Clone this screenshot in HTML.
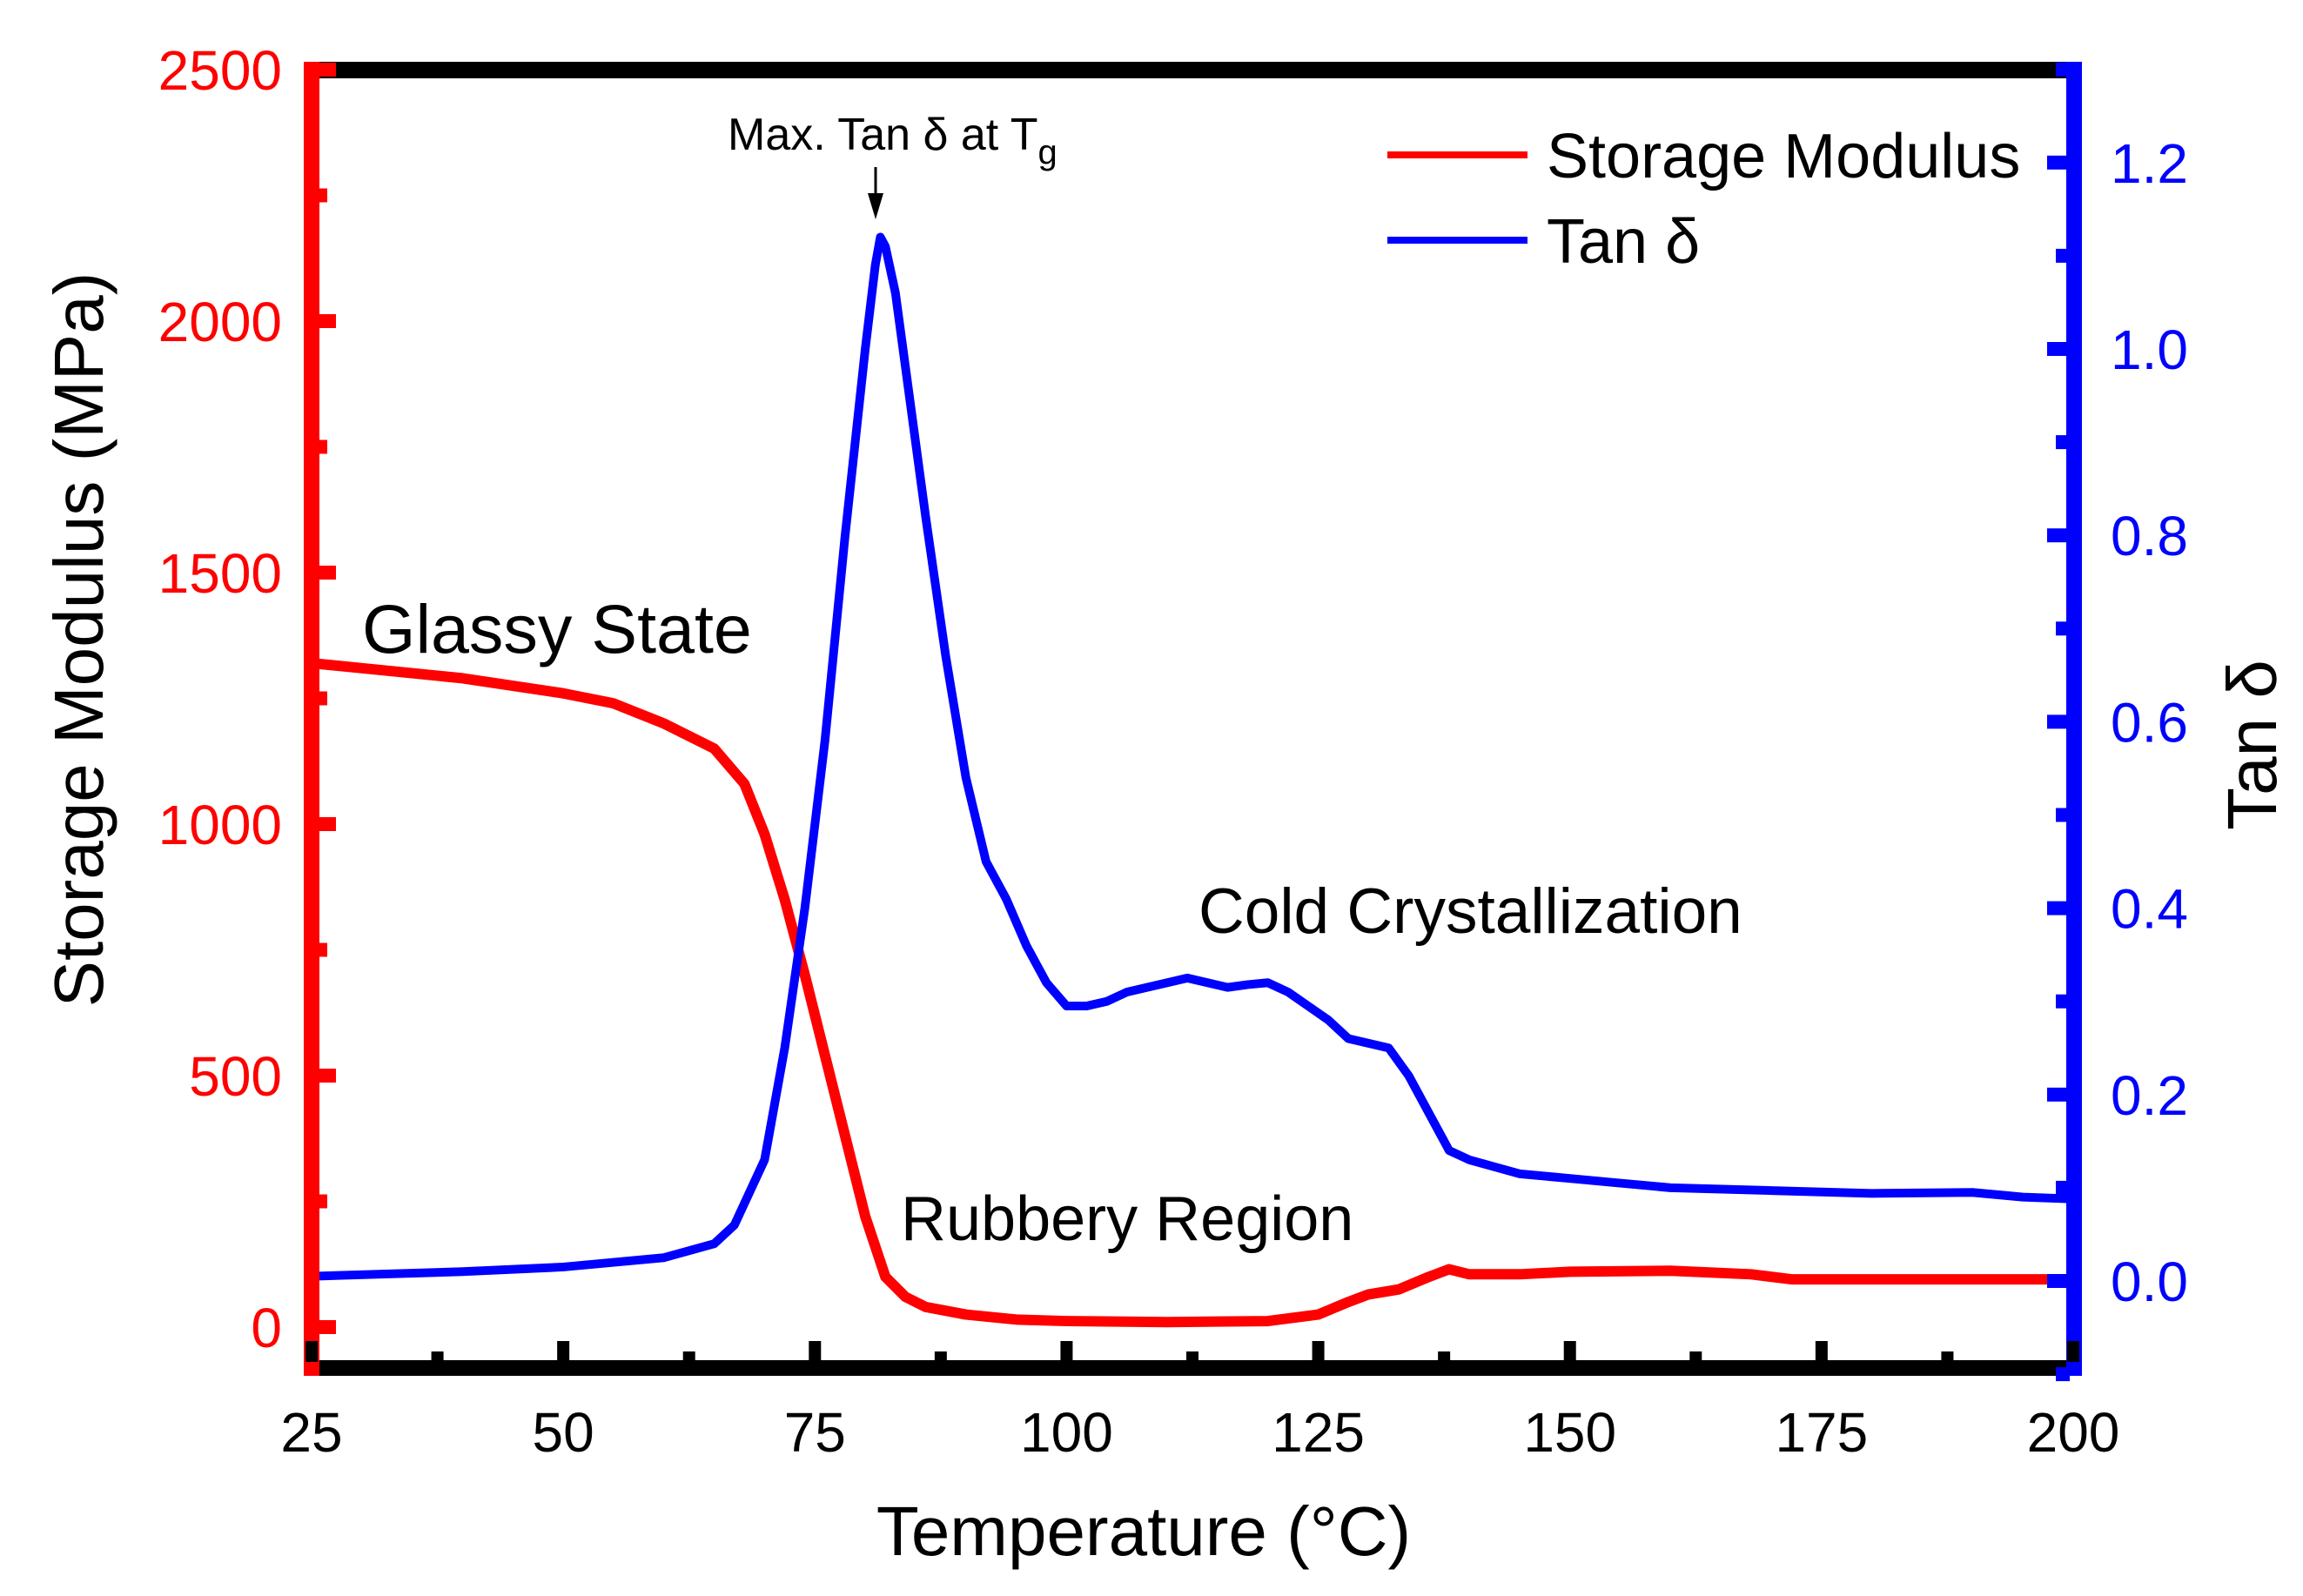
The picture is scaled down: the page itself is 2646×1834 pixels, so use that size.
<!DOCTYPE html>
<html><head><meta charset="utf-8">
<style>
html,body{margin:0;padding:0;background:#fff;}
svg{display:block;font-family:"Liberation Sans",Arial,sans-serif;}
</style></head>
<body>
<svg id="chart" width="2646" height="1834" viewBox="0 0 2646 1834" xmlns="http://www.w3.org/2000/svg">
<g id="plot"></g>
</svg>
<script>
const temps = [25,30,40,50,55,60,65,68,70,72,74,76,78,80,82,84,86,90,95,100,110,120,125,128,130,133,136,138,140,145,150,160,168,172,180,190,200];
const storageModulus = [1320,1310,1290,1260,1240,1200,1150,1080,980,850,700,540,380,220,100,60,40,25,15,12,10,12,25,50,65,75,100,115,105,105,110,112,105,95,95,95,95];
const tanTemps = [25,40,50,60,65,67,70,72,74,76,78,80,81,81.5,82,83,84,86,88,90,92,94,96,98,100,102,104,106,108,110,112,114,116,118,120,122,124,126,128,130,132,134,136,138,140,145,150,155,160,170,180,190,195,200];
const tanDelta = [0.005,0.01,0.015,0.025,0.04,0.06,0.13,0.25,0.40,0.58,0.80,1.0,1.09,1.12,1.11,1.06,0.98,0.82,0.67,0.54,0.45,0.41,0.36,0.32,0.295,0.295,0.30,0.31,0.315,0.32,0.325,0.32,0.315,0.318,0.32,0.31,0.295,0.28,0.26,0.255,0.25,0.22,0.18,0.14,0.13,0.115,0.11,0.105,0.10,0.097,0.094,0.095,0.09,0.088];
const xTicks = [25,50,75,100,125,150,175,200];
const leftTicks = [0,500,1000,1500,2000,2500];
const rightTicks = [0.0,0.2,0.4,0.6,0.8,1.0,1.2];

const X0=358, X1=2382;
const xs = t => X0 + (t-25)*(X1-X0)/175;
const yR = v => 1525 - v*0.578;
const yB = v => 1472 - v*1071;
const NS="http://www.w3.org/2000/svg";
const g=document.getElementById('plot');
function mk(tag,attrs,parent){const e=document.createElementNS(NS,tag);for(const k in attrs)e.setAttribute(k,attrs[k]);(parent||g).appendChild(e);return e;}

let ptsR=temps.map((t,i)=>xs(t)+','+yR(storageModulus[i])).join(' ');
const lr=mk('polyline',{points:ptsR,fill:'none',stroke:'#ff0000','stroke-width':12,'stroke-linejoin':'round'});


let ptsB=tanTemps.map((t,i)=>xs(t)+','+yB(tanDelta[i])).join(' ');
const lb=mk('polyline',{points:ptsB,fill:'none',stroke:'#0000ff','stroke-width':10,'stroke-linejoin':'round'});



const top_=mk('rect',{x:X0,y:71,width:X1-X0,height:19,fill:'#000'});


const bot=mk('rect',{x:X0,y:1563,width:X1-X0,height:18,fill:'#000'});


const ls=mk('rect',{x:349,y:71,width:18,height:1510,fill:'#ff0000'});


const rs=mk('rect',{x:2374,y:71,width:18,height:1510,fill:'#0000ff'});



xTicks.forEach((t,i)=>{
  const r=mk('rect',{x:xs(t)-7,y:1541,width:14,height:24,fill:'#000'});
  
  
  if(i<xTicks.length-1){const m=mk('rect',{x:xs(t+12.5)-7,y:1553,width:14,height:12,fill:'#000'});
  
  }
  const tx=mk('text',{x:xs(t),y:1668,'font-size':64,'text-anchor':'middle',fill:'#000'});
  tx.textContent=t;
  
  
});
leftTicks.forEach((v,i)=>{
  const r=mk('rect',{x:360,y:yR(v)-8,width:26,height:16,fill:'#ff0000'});
  
  
  if(i<leftTicks.length-1){const m=mk('rect',{x:360,y:yR(v+250)-8,width:16,height:16,fill:'#ff0000'});
  
  }
  const tx=mk('text',{x:324,y:yR(v)+23,'font-size':64,'text-anchor':'end',fill:'#ff0000'});
  tx.textContent=v;
  
  
});
rightTicks.forEach((v,i)=>{
  const r=mk('rect',{x:2352,y:yB(v)-8,width:26,height:16,fill:'#0000ff'});
  
  
  const m=mk('rect',{x:2362,y:yB(v+0.1)-8,width:16,height:16,fill:'#0000ff'});
  
  
  const tx=mk('text',{x:2425,y:yB(v)+23,'font-size':64,fill:'#0000ff'});
  tx.textContent=v.toFixed(1);
  
  
});
const mm=mk('rect',{x:2362,y:yB(-0.1)-8,width:16,height:16,fill:'#0000ff'});


</script>
<svg style="position:absolute;left:0;top:0" width="2646" height="1834" xmlns="http://www.w3.org/2000/svg" font-family="Liberation Sans, Arial, sans-serif">
<text x="1314" y="1787" font-size="80" text-anchor="middle">Temperature (°C)</text>
<text transform="translate(118,735) rotate(-90)" font-size="80" text-anchor="middle">Storage Modulus (MPa)</text>
<text transform="translate(2615,856) rotate(-90)" font-size="80" text-anchor="middle">Tan δ</text>
<g>
<line x1="1594" y1="178" x2="1755" y2="178" stroke="#ff0000" stroke-width="8"/>
<text x="1777" y="204" font-size="72">Storage Modulus</text>
<line x1="1594" y1="276" x2="1755" y2="276" stroke="#0000ff" stroke-width="8"/>
<text x="1777" y="302" font-size="72">Tan δ</text>
</g>
<text x="836" y="172" font-size="52">Max. Tan δ at T<tspan font-size="40" dy="16">g</tspan></text>
<line x1="1006" y1="192" x2="1006" y2="232" stroke="#000" stroke-width="3"/>
<polygon points="997,222 1015,222 1006,252" fill="#000"/>
<text x="416" y="750" font-size="79">Glassy State</text>
<text x="1377" y="1072" font-size="73">Cold Crystallization</text>
<text x="1035" y="1425" font-size="72">Rubbery Region</text>
</svg>
</body></html>
